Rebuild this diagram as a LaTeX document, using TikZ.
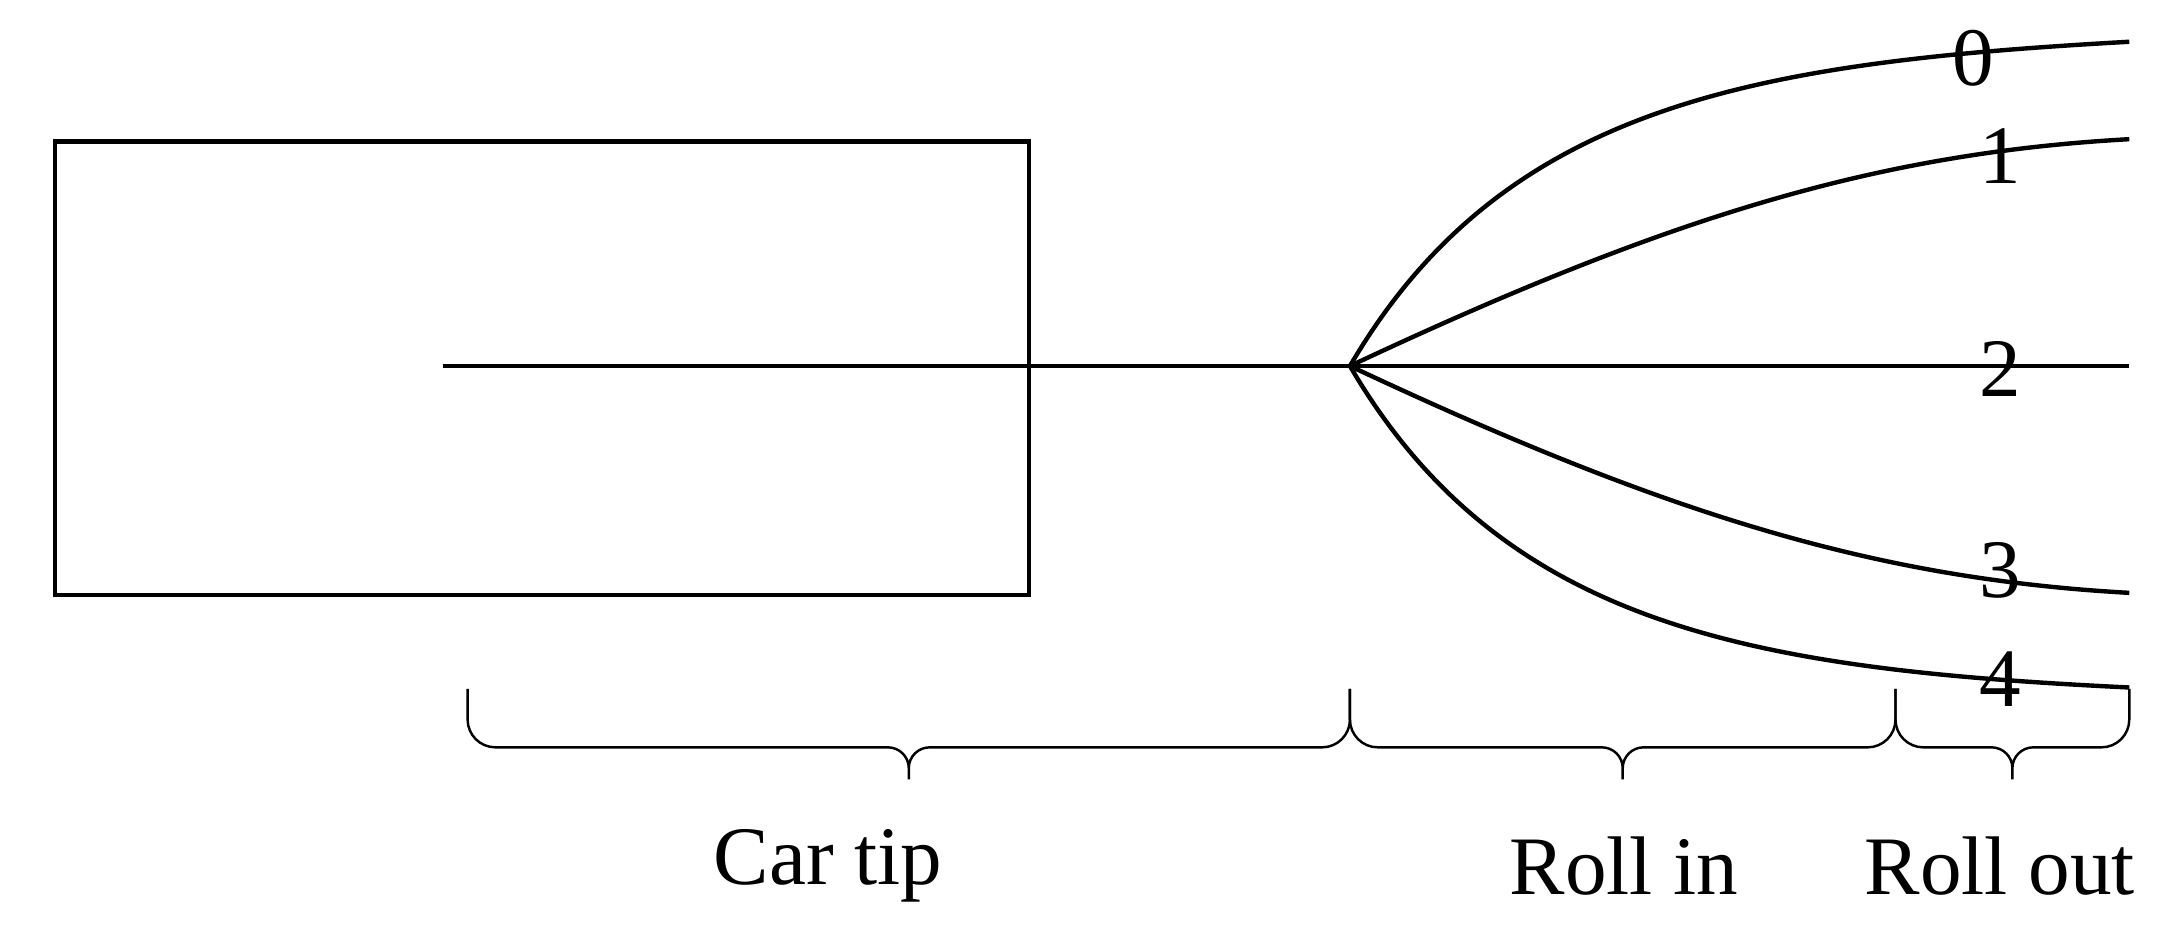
\documentclass[tikz,border=0pt]{standalone}
\usepackage{fontspec}
\setmainfont{Liberation Serif}
\usetikzlibrary{calc}
\begin{document}
\begin{tikzpicture}[
    track/.style={line width=0.9pt},
    bracket/.style={line width=0.5pt},
    lbl/.style={font=\fontsize{17}{20}\selectfont, inner sep=0pt},
    num/.style={font=\fontsize{17}{20}\selectfont, inner sep=0pt}
]
    \useasboundingbox (0,0) rectangle (15.6,-6.64);

    % Car
    \node[draw, track, minimum width=7cm, minimum height=3.26cm, anchor=north west] (car) at (0.38,-1.0) {};

    % Tracks
    \coordinate (start) at (3.18,-2.63);
    \coordinate (fork) at (9.7,-2.63);
    \coordinate (e0) at (15.3,-0.30);
    \coordinate (e1) at (15.3,-1.00);
    \coordinate (e2) at (15.3,-2.63);
    \coordinate (e3) at (15.3,-4.26);
    \coordinate (e4) at (15.3,-4.94);
    \draw[track] (start) -- (e2);
    \draw[track] (fork) .. controls (10.8,-0.75) and (12.6,-0.45) .. (e0);
    \draw[track] (fork) .. controls (12.0,-1.55) and (13.5,-1.10) .. (e1);
    \draw[track] (fork) .. controls (12.0,-3.71) and (13.5,-4.16) .. (e3);
    \draw[track] (fork) .. controls (10.8,-4.51) and (12.6,-4.81) .. (e4);

    % Numbers
    \node[num] (n0) at (14.18,-0.42) {0};
    \node[num] (n1) at (14.37,-1.12) {1};
    \node[num] (n2) at (14.37,-2.65) {2};
    \node[num] (n3) at (14.37,-4.10) {3};
    \node[num] (n4) at (14.37,-4.88) {4};

    % Braces
    \coordinate (b0) at (3.36,-4.95);
    \coordinate (b1) at (9.7,-4.95);
    \coordinate (b2) at (13.62,-4.95);
    \coordinate (b3) at (15.3,-4.95);
    \foreach \l/\r in {b0/b1, b1/b2, b2/b3}{
        \draw[bracket] (\l) -- ++(0,-0.22) arc[start angle=180, end angle=270, radius=0.2]
            -- ($(\l)!0.5!(\r) + (-0.15,-0.42)$) arc[start angle=90, end angle=0, radius=0.15] -- ++(0,-0.08)
            -- ++(0,0.08) arc[start angle=180, end angle=90, radius=0.15]
            -- ($(\r) + (-0.2,-0.42)$) arc[start angle=270, end angle=360, radius=0.2] -- (\r);
    }

    \node[lbl] (tip) at (5.95,-6.22) {Car tip};
    \node[lbl] (rin) at (11.67,-6.22) {Roll in};
    \node[lbl] (rout) at (14.37,-6.22) {Roll out};
\end{tikzpicture}
\end{document}
